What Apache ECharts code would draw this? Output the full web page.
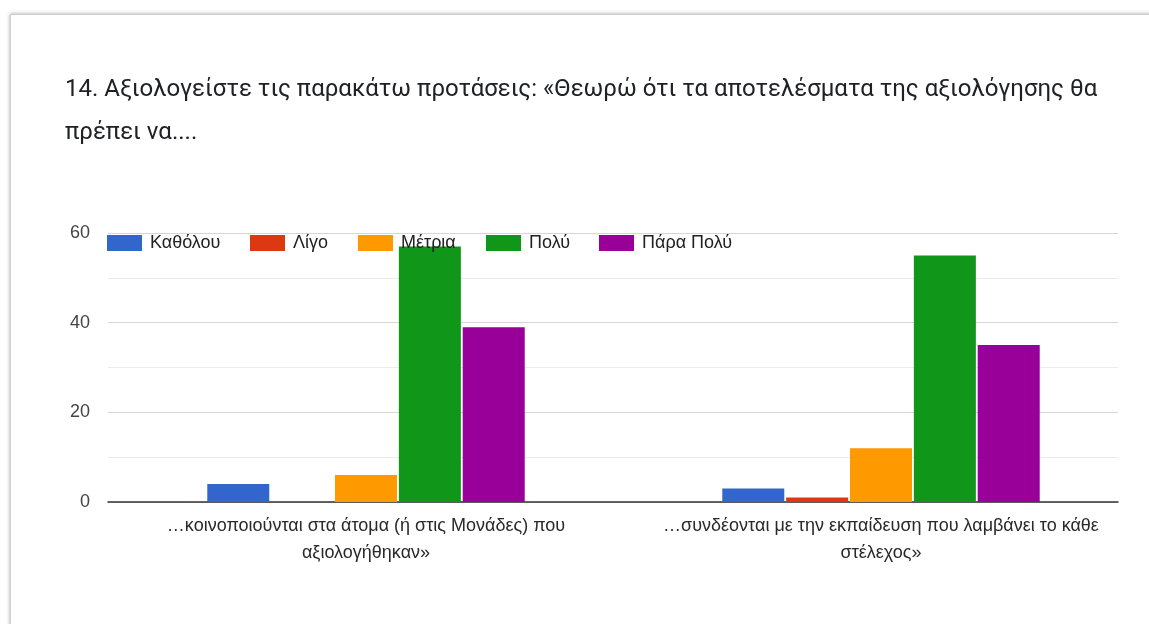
<!DOCTYPE html>
<html>
<head>
<meta charset="utf-8">
<script src="https://cdn.jsdelivr.net/npm/echarts@6/dist/echarts.min.js"></script>
<style>
  html, body { margin: 0; padding: 0; width: 1149px; height: 624px; background: #fff; overflow: hidden; }
  #card { position: absolute; left: 10px; top: 14px; width: 1200px; height: 700px; background: #fff;
          border: 1px solid #cfcfcf; box-shadow: 0 0 4px rgba(0,0,0,0.35); }
  #chart { position: absolute; left: 0; top: 0; width: 1149px; height: 624px; }
</style>
</head>
<body>
<div id="card"></div>
<div id="chart"></div>
<script>
const titleText = '14. Αξιολογείστε τις παρακάτω προτάσεις: «Θεωρώ ότι τα αποτελέσματα της αξιολόγησης θα\nπρέπει να....';
const categories = [
  '…κοινοποιούνται στα άτομα (ή στις Μονάδες) που αξιολογήθηκαν»',
  '…συνδέονται με την εκπαίδευση που λαμβάνει το κάθε στέλεχος»'
];
const seriesNames = ['Καθόλου', 'Λίγο', 'Μέτρια', 'Πολύ', 'Πάρα Πολύ'];
const seriesColors = ['#3366cc', '#dc3912', '#ff9900', '#109618', '#990099'];
const valKatholou = [4, 3];
const valLigo = [0, 1];
const valMetria = [6, 12];
const valPoly = [57, 55];
const valParaPoly = [39, 35];
const seriesValues = [valKatholou, valLigo, valMetria, valPoly, valParaPoly];
const yTicks = [0, 20, 40, 60];

const legendLefts = [107, 250, 358, 486, 599];

function wrapLabel(s, maxChars) {
  const words = s.split(' ');
  const lines = [];
  let cur = '';
  words.forEach(w => {
    const cand = cur ? cur + ' ' + w : w;
    if (cand.length > maxChars && cur) { lines.push(cur); cur = w; } else { cur = cand; }
  });
  if (cur) lines.push(cur);
  return lines.join('\n');
}

const chart = echarts.init(document.getElementById('chart'), null, { renderer: 'canvas' });

const legends = seriesNames.map((n, i) => ({
  data: [n],
  left: legendLefts[i],
  top: 234,
  padding: 0,
  itemWidth: 35,
  itemHeight: 16,
  selectedMode: false,
  icon: 'rect',
  textStyle: { fontFamily: 'Liberation Sans, Arial, sans-serif', fontSize: 18, color: '#222', padding: [0, 0, 0, 3] }
}));

const option = {
  animation: false,
  backgroundColor: 'transparent',
  title: {
    text: titleText,
    left: 65,
    top: 68,
    padding: 0,
    textStyle: { fontFamily: 'Roboto, sans-serif', fontSize: 24, fontWeight: 'normal', color: '#202124', lineHeight: 43 }
  },
  legend: legends,
  grid: [
    { left: 108, right: 31, top: 233, bottom: 122 },
    { left: 108.5, right: 10.5, top: 233, bottom: 122 }
  ],
  xAxis: [
    { gridIndex: 0, type: 'category', data: [''], axisLine: { show: true, lineStyle: { color: '#333', width: 1.5 } },
      axisTick: { show: false }, axisLabel: { show: false } },
    { gridIndex: 1, type: 'category', data: categories,
      axisLine: { show: false }, axisTick: { show: false },
      axisLabel: { margin: 11, fontFamily: 'Liberation Sans, Arial, sans-serif', fontSize: 18, color: '#2a2a2a',
                   lineHeight: 27, interval: 0, formatter: v => wrapLabel(v, 52) } }
  ],
  yAxis: [
    { gridIndex: 0, type: 'value', min: 0, max: 60, interval: 10,
      axisLine: { show: false }, axisTick: { show: false },
      axisLabel: { margin: 18, fontFamily: 'Liberation Sans, Arial, sans-serif', fontSize: 18, color: '#444',
                   formatter: v => (yTicks.indexOf(v) >= 0 ? String(v) : '') },
      splitLine: { show: true, lineStyle: { color: ['#d6d6d6', '#ececec'], width: 1 } } },
    { gridIndex: 1, type: 'value', min: 0, max: 60, interval: 10, show: false, splitLine: { show: false } }
  ],
  series: seriesNames.map((n, i) => ({
    name: n,
    type: 'bar',
    xAxisIndex: 1,
    yAxisIndex: 1,
    data: seriesValues[i],
    barWidth: 62,
    barGap: '3%',
    itemStyle: { color: seriesColors[i] },
    z: 3
  }))
};
chart.setOption(option);
</script>
</body>
</html>
